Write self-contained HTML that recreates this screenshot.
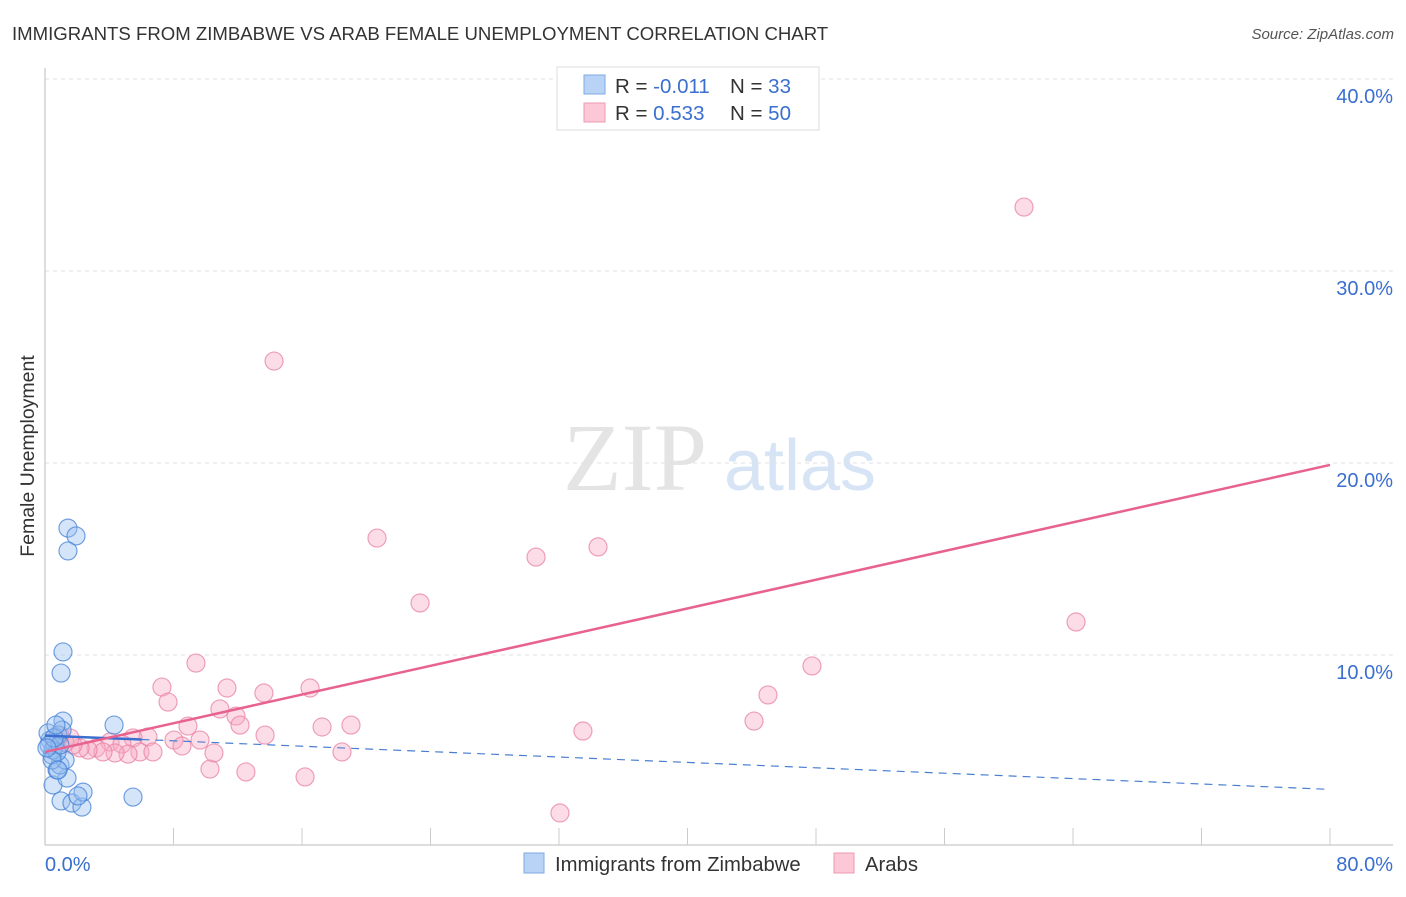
<!DOCTYPE html>
<html><head><meta charset="utf-8"><style>
body{margin:0;background:#fff;font-family:"Liberation Sans",sans-serif}
svg text{font-family:"Liberation Sans",sans-serif}
</style></head><body>
<svg id="chart" width="1406" height="892" xmlns="http://www.w3.org/2000/svg">
<text x="12" y="40" font-size="18.6" fill="#333">IMMIGRANTS FROM ZIMBABWE VS ARAB FEMALE UNEMPLOYMENT CORRELATION CHART</text>
<text x="1394" y="39" font-size="15" fill="#555" text-anchor="end" font-style="italic">Source: ZipAtlas.com</text>
<text x="0" y="0" transform="translate(34,456) rotate(-90)" font-size="19.5" fill="#333" text-anchor="middle">Female Unemployment</text>
<g>
<text x="635" y="490" font-size="96" fill="#e4e4e4" text-anchor="middle" font-family="Liberation Serif" style="font-family:'Liberation Serif',serif">ZIP</text>
<text x="800" y="490" font-size="72" fill="#d6e4f5" text-anchor="middle">atlas</text>
</g>
<g id="grid"></g><g id="axes"></g><g id="marks"></g>
<g>
<rect x="557" y="67" width="262" height="63" fill="#fff" stroke="#ddd"/>
<rect x="584" y="75" width="21" height="19" fill="#b8d3f5" stroke="#7ea9e0"/>
<rect x="584" y="103" width="21" height="19" fill="#fcc8d6" stroke="#ee9ab3"/>
<text x="615" y="93" font-size="20.5" fill="#333">R = <tspan fill="#3a6fcf">-0.011</tspan></text>
<text x="730" y="93" font-size="20.5" fill="#333">N = <tspan fill="#3a6fcf"> 33</tspan></text>
<text x="615" y="120" font-size="20.5" fill="#333">R = <tspan fill="#3a6fcf"> 0.533</tspan></text>
<text x="730" y="120" font-size="20.5" fill="#333">N = <tspan fill="#3a6fcf">50</tspan></text>
</g>
<g>
<rect x="524" y="853" width="20" height="20" fill="#b8d3f5" stroke="#7ea9e0"/>
<text x="555" y="871" font-size="20.3" fill="#333">Immigrants from Zimbabwe</text>
<rect x="834" y="853" width="20" height="20" fill="#fcc8d6" stroke="#ee9ab3"/>
<text x="865" y="871" font-size="20.3" fill="#333">Arabs</text>
</g>
</svg>
<script>
const yTicks=[10,20,30,40];
const yTickLabels=["10.0%","20.0%","30.0%","40.0%"];
const xTickVals=[0,8,16,24,32,40,48,56,64,72,80];
const blueX=[1.43,1.93,1.43,1.12,1.00,1.12,4.30,5.48,0.50,1.00,1.68,2.30,2.37,2.05,1.37,0.75,0.93,1.25,0.44,0.62,0.31,0.81,0.19,1.06,0.50,0.75,0.25,0.93,0.56,0.44,0.81,0.12,0.68];
const blueY=[16.61,16.20,15.42,10.16,9.06,6.56,6.35,2.60,3.23,2.40,2.29,2.08,2.86,2.66,3.59,4.01,4.27,4.53,4.79,5.31,5.57,5.83,5.94,6.09,5.05,4.95,5.31,5.31,5.68,4.53,4.01,5.16,6.35];
const pinkX=[60.95,14.26,20.67,30.57,34.43,23.35,64.19,47.75,9.40,45.01,44.14,33.49,7.28,7.66,11.33,13.63,16.50,10.89,11.89,12.14,8.90,13.70,17.25,19.05,8.03,8.53,9.65,6.41,5.48,4.05,3.18,4.79,5.91,6.72,5.17,4.36,3.61,2.68,2.18,1.74,1.25,1.56,0.93,10.27,12.51,16.19,18.49,32.06,10.52,0.62];
const pinkY=[33.33,25.31,16.09,15.10,15.63,12.71,11.72,9.43,9.58,7.92,6.56,6.04,8.33,7.55,8.28,8.02,8.28,7.19,6.82,6.35,6.30,5.83,6.25,6.35,5.57,5.26,5.57,5.73,5.68,5.47,5.16,5.36,4.95,4.95,4.84,4.90,4.95,5.05,5.16,5.31,5.42,5.68,5.83,4.06,3.91,3.65,4.95,1.77,4.90,5.47];
const pinkTrend=[[0,4.95],[80,19.9]];
const blueTrendSolid=[[0,5.8],[6,5.6]];
const blueTrendDash=[[6,5.6],[80,3.0]];
const NS="http://www.w3.org/2000/svg";
const sx=v=>45+v*1285/80, sy=v=>847-v*19.2;
function mk(tag,at,parent){const e=document.createElementNS(NS,tag);for(const k in at)e.setAttribute(k,at[k]);parent.appendChild(e);return e;}
const grid=document.getElementById('grid'),axes=document.getElementById('axes'),marks=document.getElementById('marks');
yTicks.forEach((t,i)=>{
 const l=mk('line',{x1:45,x2:1393,y1:sy(t),y2:sy(t),stroke:'#e2e2e2','stroke-dasharray':'4,4'},grid);
 
 
 const tx=mk('text',{x:1393,y:sy(t)+24,'font-size':20,fill:'#3a6fcf','text-anchor':'end'},axes);
 tx.textContent=yTickLabels[i];
 
 
});
mk('line',{x1:45,x2:45,y1:68,y2:845,stroke:'#bbb'},axes);
mk('line',{x1:45,x2:1393,y1:845,y2:845,stroke:'#bbb'},axes);
xTickVals.forEach(v=>{if(v>0){const t=mk('line',{x1:sx(v),x2:sx(v),y1:828,y2:845,stroke:'#ccc'},axes);
 
 }});
const x0=mk('text',{x:45,y:871,'font-size':20,fill:'#3a6fcf'},axes);x0.textContent='0.0%';


const x1=mk('text',{x:1393,y:871,'font-size':20,fill:'#3a6fcf','text-anchor':'end'},axes);x1.textContent='80.0%';


pinkX.forEach((v,i)=>{const c=mk('circle',{cx:sx(v),cy:sy(pinkY[i]),r:9,fill:'rgba(248,170,195,0.4)',stroke:'rgba(232,130,165,0.75)','stroke-width':1.2},marks);
 
 });
blueX.forEach((v,i)=>{const c=mk('circle',{cx:sx(v),cy:sy(blueY[i]),r:9,fill:'rgba(150,190,240,0.4)',stroke:'rgba(70,130,215,0.75)','stroke-width':1.2},marks);
 
 });
const bd=mk('line',{x1:sx(blueTrendDash[0][0]),y1:sy(blueTrendDash[0][1]),x2:sx(blueTrendDash[1][0]),y2:sy(blueTrendDash[1][1]),stroke:'#4a7fd0','stroke-width':1.2,'stroke-dasharray':'8,6'},marks);


const bs=mk('line',{x1:sx(blueTrendSolid[0][0]),y1:sy(blueTrendSolid[0][1]),x2:sx(blueTrendSolid[1][0]),y2:sy(blueTrendSolid[1][1]),stroke:'#3a6fcf','stroke-width':2.5},marks);


const pt=mk('line',{x1:sx(pinkTrend[0][0]),y1:sy(pinkTrend[0][1]),x2:sx(pinkTrend[1][0]),y2:sy(pinkTrend[1][1]),stroke:'#e8628f','stroke-width':2.5},marks);


</script>
</body></html>
